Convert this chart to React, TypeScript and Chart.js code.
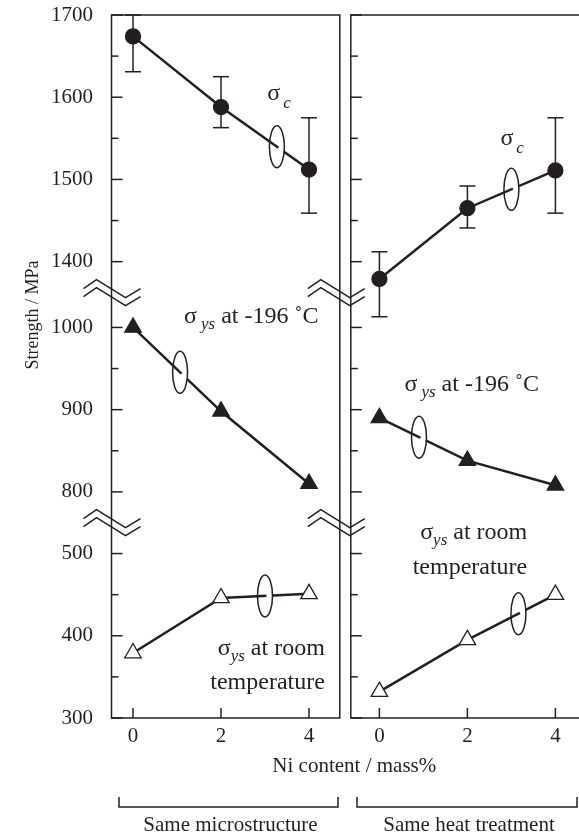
import React, { useEffect, useRef } from "react";
import { Chart, registerables } from "chart.js";

Chart.register(...registerables);

const FONT = '"Liberation Serif", "Times New Roman", serif';
const INK = "#231f20";

// Ni content / mass%
const niContent = [0, 2, 4];

// "Same microstructure" panel (MPa)
const microSigmaC = [1674, 1588, 1512];
const microSigmaCHigh = [1700, 1625, 1575];
const microSigmaCLow = [1631, 1563, 1459];
const microYs196 = [1000, 898, 810];
const microYsRT = [379, 446, 451];

// "Same heat treatment" panel (MPa)
const heatSigmaC = [1379, 1465, 1511];
const heatSigmaCHigh = [1412, 1492, 1575];
const heatSigmaCLow = [1333, 1441, 1459];
const heatYs196 = [890, 838, 808];
const heatYsRT = [332, 395, 450];

// axis ticks
const yTickLabels = [300, 400, 500, 800, 900, 1000, 1400, 1500, 1600, 1700];
const yMinorTicks = [350, 450, 850, 950, 1450, 1550, 1650];
const xTickLabels = [0, 2, 4];

// broken-axis mapping (real MPa -> continuous axis value)
const SEG_OFFSET: Record<string, number> = { low: 0, mid: -225, high: -545 };
const segOf = (v: number) => (v >= 1300 ? "high" : v >= 700 ? "mid" : "low");
const toV = (v: number) => v + SEG_OFFSET[segOf(v)];

// panel layout in x-axis units
const RIGHT_X0 = 5.6; // x shift of the right panel
const LEFT_PANEL_END = 4.7;
const RIGHT_PANEL_START = 4.95;
const X_MIN = -0.5;
const PX_PER_UNIT = 44;

const W = 579;
const H = 835;

const pts = (ys: number[], dx: number) =>
  niContent.map((n, i) => ({ x: n + dx, y: toV(ys[i]) }));

const errorBars = [
  { high: microSigmaCHigh, low: microSigmaCLow, dx: 0 },
  { high: heatSigmaCHigh, low: heatSigmaCLow, dx: RIGHT_X0 },
];

const loops = [
  { data: microSigmaC, dx: 0, at: 3.27 },
  { data: heatSigmaC, dx: RIGHT_X0, at: 3.0 },
  { data: microYs196, dx: 0, at: 1.07 },
  { data: heatYs196, dx: RIGHT_X0, at: 0.9 },
  { data: microYsRT, dx: 0, at: 3.0 },
  { data: heatYsRT, dx: RIGHT_X0, at: 3.16 },
];

type Lbl = { ni: number; dx: number; value: number; sub?: string; gap?: number; rest: string; align: "left" | "right" };
const labels: Lbl[] = [
  { ni: 3.05, dx: 0, value: 1597, sub: "c", gap: 3, rest: "", align: "left" },
  { ni: 2.75, dx: RIGHT_X0, value: 1542, sub: "c", gap: 3, rest: "", align: "left" },
  { ni: 1.16, dx: 0, value: 1006, sub: "ys", gap: 4, rest: " at -196 ˚C", align: "left" },
  { ni: 0.57, dx: RIGHT_X0, value: 923, sub: "ys", gap: 4, rest: " at -196 ˚C", align: "left" },
  { ni: 4.36, dx: 0, value: 377, sub: "ys", gap: 0, rest: " at room", align: "right" },
  { ni: 4.36, dx: 0, value: 335, rest: "temperature", align: "right" },
  { ni: 3.36, dx: RIGHT_X0, value: 518, sub: "ys", gap: 0, rest: " at room", align: "right" },
  { ni: 3.36, dx: RIGHT_X0, value: 475, rest: "temperature", align: "right" },
];

const decor = {
  id: "decor",
  beforeDatasetsDraw(chart: any) {
    const { ctx, chartArea: ca } = chart;
    const x = chart.scales.x;
    const y = chart.scales.y;
    const seg = (x1: number, y1: number, x2: number, y2: number) => {
      ctx.beginPath();
      ctx.moveTo(x1, y1);
      ctx.lineTo(x2, y2);
      ctx.stroke();
    };
    ctx.save();
    ctx.strokeStyle = INK;
    ctx.lineWidth = 1.5;
    const xl = ca.left + 0.5;
    const xe = x.getPixelForValue(LEFT_PANEL_END);
    const xs = x.getPixelForValue(RIGHT_PANEL_START);
    const xr = chart.width + 3;
    const t = ca.top;
    const b = ca.bottom;
    // frames
    ctx.beginPath();
    ctx.moveTo(xl, t);
    ctx.lineTo(xe, t);
    ctx.lineTo(xe, b);
    ctx.lineTo(xl, b);
    ctx.closePath();
    ctx.stroke();
    ctx.beginPath();
    ctx.moveTo(xr, t);
    ctx.lineTo(xs, t);
    ctx.lineTo(xs, b);
    ctx.lineTo(xr, b);
    ctx.stroke();
    // y ticks (inward)
    for (const ax of [xl, xs]) {
      yTickLabels.forEach((v) => {
        const py = y.getPixelForValue(toV(v));
        seg(ax, py, ax + 11, py);
      });
      yMinorTicks.forEach((v) => {
        const py = y.getPixelForValue(toV(v));
        seg(ax, py, ax + 7, py);
      });
    }
    // x ticks (inward)
    for (const dx of [0, RIGHT_X0]) {
      xTickLabels.forEach((n) => {
        const px = x.getPixelForValue(n + dx);
        seg(px, b, px, b - 10);
      });
    }
    // axis breaks
    const shape = [
      [-28, -4],
      [-15, -13],
      [14, 5],
      [29, -4],
    ];
    const breakYs = [
      (y.getPixelForValue(toV(1400)) + y.getPixelForValue(toV(1000))) / 2 - 2,
      (y.getPixelForValue(toV(800)) + y.getPixelForValue(toV(500))) / 2,
    ];
    for (const ax of [xl, xe - 4]) {
      for (const ay of breakYs) {
        for (const off of [0, 8]) {
          ctx.beginPath();
          shape.forEach(([sx, sy], i) => {
            if (i === 0) ctx.moveTo(ax + sx, ay + sy + off);
            else ctx.lineTo(ax + sx, ay + sy + off);
          });
          ctx.stroke();
        }
      }
    }
    // error bars
    for (const eb of errorBars) {
      niContent.forEach((n, i) => {
        const px = x.getPixelForValue(n + eb.dx);
        const ph = y.getPixelForValue(toV(eb.high[i]));
        const pl = y.getPixelForValue(toV(eb.low[i]));
        seg(px, ph, px, pl);
        seg(px - 8, ph, px + 8, ph);
        seg(px - 8, pl, px + 8, pl);
      });
    }
    ctx.restore();
  },
  afterDatasetsDraw(chart: any) {
    const { ctx } = chart;
    const x = chart.scales.x;
    const y = chart.scales.y;
    ctx.save();
    for (const lp of loops) {
      let i = 0;
      while (i < niContent.length - 2 && lp.at > niContent[i + 1]) i++;
      const x0 = x.getPixelForValue(niContent[i] + lp.dx);
      const y0 = y.getPixelForValue(toV(lp.data[i]));
      const x1 = x.getPixelForValue(niContent[i + 1] + lp.dx);
      const y1 = y.getPixelForValue(toV(lp.data[i + 1]));
      const f = (lp.at - niContent[i]) / (niContent[i + 1] - niContent[i]);
      const cx = x0 + f * (x1 - x0);
      const cy = y0 + f * (y1 - y0);
      const slope = (y1 - y0) / (x1 - x0);
      const rx = 7.5;
      const ry = 21;
      ctx.strokeStyle = "#ffffff";
      ctx.lineWidth = 5;
      ctx.beginPath();
      ctx.moveTo(cx + 1.5, cy + slope * 1.5);
      ctx.lineTo(cx + rx - 0.5, cy + slope * (rx - 0.5));
      ctx.stroke();
      ctx.strokeStyle = INK;
      ctx.lineWidth = 1.5;
      ctx.beginPath();
      ctx.ellipse(cx, cy, rx, ry, 0, 0, Math.PI * 2);
      ctx.stroke();
    }
    ctx.restore();
  },
  afterDraw(chart: any) {
    const { ctx, chartArea: ca } = chart;
    const x = chart.scales.x;
    const y = chart.scales.y;
    ctx.save();
    ctx.fillStyle = INK;
    ctx.strokeStyle = INK;
    ctx.textBaseline = "alphabetic";
    const big = `24px ${FONT}`;
    const small = `italic 17px ${FONT}`;
    for (const lb of labels) {
      const px = x.getPixelForValue(lb.ni + lb.dx);
      const py = y.getPixelForValue(toV(lb.value));
      const parts: { t: string; font: string; dy: number; pre: number }[] = [];
      if (lb.sub) {
        parts.push({ t: "σ", font: big, dy: 0, pre: 0 });
        parts.push({ t: lb.sub, font: small, dy: lb.sub === "c" ? 8 : 6, pre: lb.gap || 0 });
      }
      if (lb.rest) parts.push({ t: lb.rest, font: big, dy: 0, pre: 0 });
      let total = 0;
      const widths = parts.map((p) => {
        ctx.font = p.font;
        const w = ctx.measureText(p.t).width;
        total += p.pre + w;
        return w;
      });
      let cx = lb.align === "right" ? px - total : px;
      ctx.textAlign = "left";
      parts.forEach((p, i) => {
        cx += p.pre;
        ctx.font = p.font;
        ctx.fillText(p.t, cx, py + p.dy);
        cx += widths[i];
      });
    }
    // y-axis title
    ctx.save();
    ctx.translate(33, 315);
    ctx.rotate(-Math.PI / 2);
    ctx.font = `18px ${FONT}`;
    ctx.textAlign = "center";
    ctx.textBaseline = "middle";
    ctx.fillText("Strength / MPa", 0, 0);
    ctx.restore();
    // x-axis title, centred between the two panels
    ctx.font = `21px ${FONT}`;
    ctx.textAlign = "center";
    ctx.textBaseline = "middle";
    ctx.fillText("Ni content / mass%", (x.getPixelForValue(LEFT_PANEL_END) + x.getPixelForValue(RIGHT_PANEL_START)) / 2 + 9, ca.bottom + 48);
    // brackets
    ctx.lineWidth = 1.5;
    const bt = ca.bottom + 79;
    const bb = ca.bottom + 89;
    const brackets = [
      { l: 119, r: 338, text: "Same microstructure" },
      { l: 357, r: 577, text: "Same heat treatment" },
    ];
    ctx.textBaseline = "alphabetic";
    for (const br of brackets) {
      ctx.beginPath();
      ctx.moveTo(br.l, bt);
      ctx.lineTo(br.l, bb);
      ctx.lineTo(br.r, bb);
      ctx.lineTo(br.r, bt);
      ctx.stroke();
      ctx.fillText(br.text, (br.l + br.r) / 2 + 2, bb + 24);
    }
    ctx.restore();
  },
};

export default function App() {
  const ref = useRef<HTMLCanvasElement | null>(null);
  useEffect(() => {
    if (!ref.current) return;
    const lineDs = (label: string, data: any[], style: string, fill: string, radius: number) => ({
      label,
      data,
      borderColor: INK,
      borderWidth: 2.5,
      backgroundColor: fill,
      pointStyle: style,
      pointRadius: radius,
      pointBackgroundColor: fill,
      pointBorderColor: INK,
      pointBorderWidth: 1.3,
      tension: 0,
      clip: false,
      fill: false,
    });
    const chart = new Chart(ref.current, {
      type: "line",
      data: {
        datasets: [
          lineDs("σc same microstructure", pts(microSigmaC, 0), "circle", INK, 7.5),
          lineDs("σys -196 same microstructure", pts(microYs196, 0), "triangle", INK, 9.5),
          lineDs("σys RT same microstructure", pts(microYsRT, 0), "triangle", "#ffffff", 9.5),
          lineDs("σc same heat treatment", pts(heatSigmaC, RIGHT_X0), "circle", INK, 7.5),
          lineDs("σys -196 same heat treatment", pts(heatYs196, RIGHT_X0), "triangle", INK, 9.5),
          lineDs("σys RT same heat treatment", pts(heatYsRT, RIGHT_X0), "triangle", "#ffffff", 9.5),
        ] as any,
      },
      options: {
        responsive: false,
        animation: false,
        events: [],
        layout: { padding: { top: 15, right: 0, bottom: 57, left: 0 } },
        plugins: { legend: { display: false }, tooltip: { enabled: false } },
        scales: {
          x: {
            type: "linear",
            min: X_MIN,
            max: 10.136,
            grid: { display: false, drawTicks: false, tickLength: 0 },
            border: { display: false },
            afterBuildTicks: (s: any) => {
              s.ticks = [
                ...xTickLabels.map((n) => ({ value: n })),
                ...xTickLabels.map((n) => ({ value: n + RIGHT_X0 })),
              ];
            },
            afterFit: (s: any) => {
              s.height = 60;
              s.paddingLeft = 0;
              s.paddingRight = 0;
              s.paddingTop = 0;
              s.paddingBottom = 0;
            },
            ticks: {
              autoSkip: false,
              maxRotation: 0,
              padding: 6,
              color: INK,
              font: { family: FONT, size: 21 },
              callback: (_v: any, i: number) => String(xTickLabels[i % xTickLabels.length]),
            },
            title: { display: false },
          },
          y: {
            type: "linear",
            min: 300,
            max: 1155,
            grid: { display: false, drawTicks: false, tickLength: 0 },
            border: { display: false },
            afterBuildTicks: (s: any) => {
              s.ticks = yTickLabels.map((v) => ({ value: toV(v) }));
            },
            afterFit: (s: any) => {
              s.width = 111;
              s.paddingLeft = 0;
              s.paddingRight = 0;
              s.paddingTop = 0;
              s.paddingBottom = 0;
            },
            ticks: {
              autoSkip: false,
              padding: 18,
              color: INK,
              font: { family: FONT, size: 21 },
              callback: (_v: any, i: number) => String(yTickLabels[i]),
            },
          },
        },
      } as any,
      plugins: [decor],
    });
    // fix the x scale so that one mass% is PX_PER_UNIT pixels wide
    const ca = chart.chartArea;
    (chart.options as any).scales.x.max = X_MIN + (ca.right - ca.left) / PX_PER_UNIT;
    chart.update();
    return () => chart.destroy();
  }, []);
  return (
    <div style={{ position: "absolute", left: 0, top: 0, width: W, height: H, overflow: "hidden", background: "#fff" }}>
      <canvas ref={ref} width={W} height={H} style={{ display: "block" }} />
    </div>
  );
}
